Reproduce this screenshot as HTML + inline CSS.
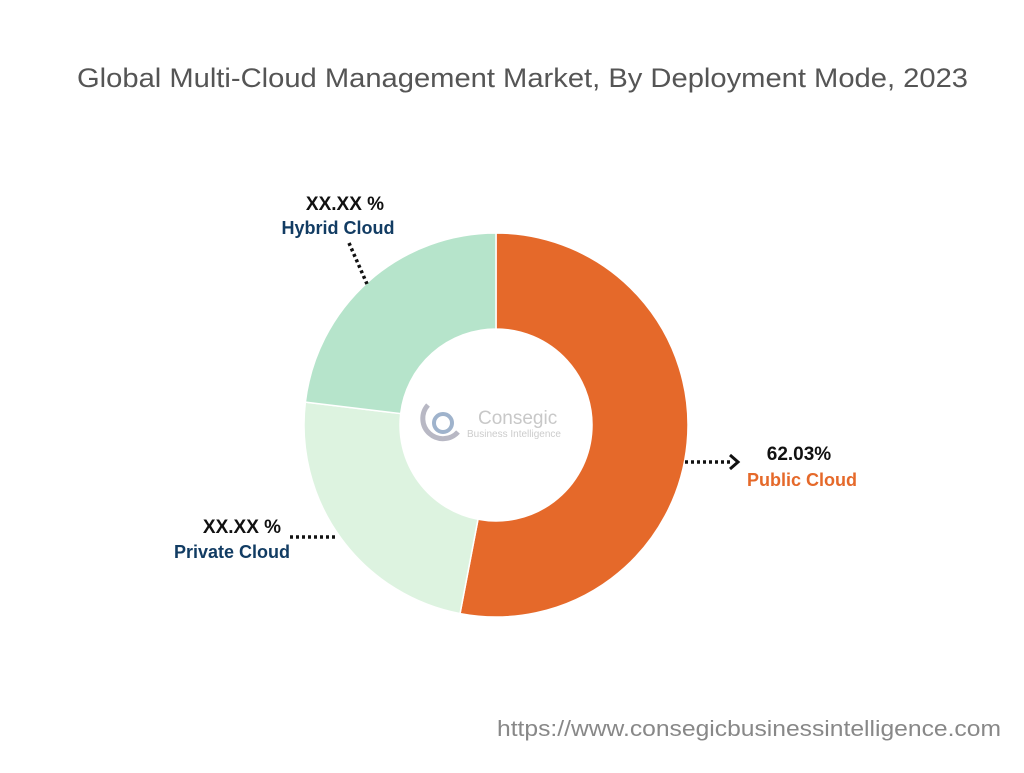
<!DOCTYPE html>
<html><head><meta charset="utf-8"><style>
body{margin:0;width:1024px;height:768px;background:#fff;font-family:"Liberation Sans",sans-serif;overflow:hidden}
</style></head><body>
<svg width="1024" height="768">
<text x="77" y="87" font-size="27" fill="#555" textLength="891" lengthAdjust="spacingAndGlyphs">Global Multi-Cloud Management Market, By Deployment Mode, 2023</text>
<g id="slices"></g>
<g>
<path d="M428 405 A18 18 0 1 0 458 432" stroke="#b8b8c4" stroke-width="5" fill="none"/>
<circle cx="443" cy="423" r="9" stroke="#9fb3cc" stroke-width="4" fill="none"/>
<text x="478" y="424" font-size="19" fill="#c8c8c8">Consegic</text>
<text x="467" y="437" font-size="10" fill="#ccc">Business Intelligence</text>
</g>
<g font-weight="bold">
<text x="345" y="210" text-anchor="middle" font-size="19" fill="#111">XX.XX %</text>
<text x="338" y="234" text-anchor="middle" font-size="18" fill="#123c63">Hybrid Cloud</text>
<line x1="349" y1="243" x2="367" y2="284" stroke="#111" stroke-width="3.5" stroke-dasharray="3,3"/>
<text x="242" y="533" text-anchor="middle" font-size="19" fill="#111">XX.XX %</text>
<text x="232" y="558" text-anchor="middle" font-size="18" fill="#123c63">Private Cloud</text>
<line x1="290" y1="537" x2="338" y2="537" stroke="#111" stroke-width="3.5" stroke-dasharray="3,3"/>
<text x="799" y="460" text-anchor="middle" font-size="19" fill="#111">62.03%</text>
<text x="802" y="486" text-anchor="middle" font-size="18" fill="#e5692a">Public Cloud</text>
<line x1="685" y1="462" x2="732" y2="462" stroke="#111" stroke-width="3.5" stroke-dasharray="3,3"/>
<path d="M730 455 L738 462 L730 469" stroke="#111" stroke-width="3" fill="none"/>
</g>
<text x="497" y="736" font-size="22" fill="#888" textLength="504" lengthAdjust="spacingAndGlyphs">https://www.consegicbusinessintelligence.com</text>
</svg>
<script>
const categories=["Public Cloud","Private Cloud","Hybrid Cloud"];
const values=[53.0,23.9,23.1];
const colors=["#e5692a","#ddf3e0","#b6e4cb"];
const cx=496,cy=425,R=192,r=96;
const g=document.getElementById('slices');
const total=values.reduce((a,b)=>a+b,0);
function pt(a,rad){return [cx+rad*Math.sin(a),cy-rad*Math.cos(a)];}
let a0=0;
values.forEach((v,i)=>{
  const a1=a0+v/total*2*Math.PI;
  const lg=(a1-a0)>Math.PI?1:0;
  const [x0,y0]=pt(a0,R),[x1,y1]=pt(a1,R),[x2,y2]=pt(a1,r),[x3,y3]=pt(a0,r);
  const p=document.createElementNS('http://www.w3.org/2000/svg','path');
  p.setAttribute('d',`M${x0} ${y0} A${R} ${R} 0 ${lg} 1 ${x1} ${y1} L${x2} ${y2} A${r} ${r} 0 ${lg} 0 ${x3} ${y3}Z`);
  p.setAttribute('fill',colors[i]);
  p.setAttribute('stroke','#fff');p.setAttribute('stroke-width','1.5');
  
  
  g.appendChild(p);
  a0=a1;
});
</script>
</body></html>
